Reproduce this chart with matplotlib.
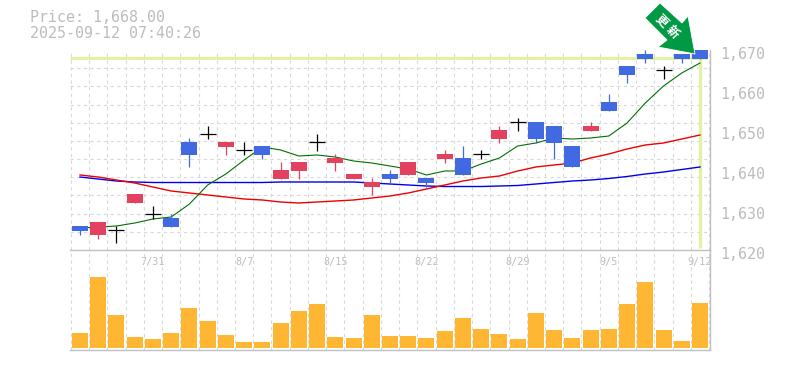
import matplotlib
matplotlib.use("Agg")
import matplotlib.pyplot as plt
from matplotlib.patches import Polygon
from matplotlib.transforms import ScaledTranslation

W, H = 785, 370
GRID = "#d9d9d9"
AXIS = "#c0c0c0"
TXT = "#bcbcbc"
HILITE = "#e2f2a4"
BLUE = "#4169e1"
RED = "#e2425f"
VOLC = "#ffb733"

date_idx = [4, 9, 14, 19, 24, 29, 34]
date_labels = ["7/31", "8/7", "8/15", "8/22", "8/29", "9/5", "9/12"]

opens = [1624.75,1627,1625,1634,1628.9,1625.75,1643.8,1649,1647,1645,1643.75,1640,1642,1647,1643,1639,1637,1637.75,1642,1636.75,1644,1638.75,1644,1650,1652,1647.75,1646.75,1640.75,1651,1654.75,1663.75,1667.75,1665,1667.75,1667.75]
closes = [1626,1623.75,1625,1631.75,1628.9,1628,1647,1649,1645.75,1645,1646,1637.75,1639.75,1647,1641.75,1637.75,1635.75,1639,1638.75,1638,1642.75,1643,1644,1647.75,1652,1652,1651,1646,1649.75,1657,1666,1669,1665,1669,1670]
highs = [1626,1627,1626,1634,1631,1629,1648,1651,1647,1647,1646,1642,1642,1649,1644,1639,1638,1640,1642,1638,1645,1646,1645,1651,1653,1652,1651,1646,1652,1659,1666,1670,1666,1669,1670]
lows = [1623.75,1622.75,1621.75,1631.75,1627.75,1625.75,1640.8,1647.8,1643.8,1643.8,1642.75,1637.75,1637.75,1644.75,1639.75,1637.75,1633.75,1636.75,1638.75,1635.75,1641.75,1638.75,1642.75,1646.75,1649.75,1646.75,1642.75,1640.75,1649.75,1654.75,1661.75,1666.75,1662.75,1666.75,1667.75]
ma_short = [1625.5,1625.75,1626,1626.75,1627.75,1628.25,1631.5,1636.25,1639,1642.5,1645.75,1645,1643.5,1643.75,1643.25,1642.25,1641.75,1641,1640.25,1638.75,1639.75,1639.75,1641.5,1643,1646,1646.75,1648,1647.75,1648,1648.5,1651.75,1656.75,1661,1664.25,1666.75]
ma_mid = [1638.75,1638.25,1637.5,1636.75,1635.75,1634.75,1634.25,1633.75,1633.25,1632.75,1632.5,1632,1631.75,1632,1632.25,1632.5,1633,1633.5,1634.25,1635.25,1636.25,1637.25,1638,1638.5,1639.75,1640.75,1641.25,1641.75,1643,1644,1645.25,1646.25,1646.75,1647.75,1648.75]
ma_long = [1638.25,1637.75,1637.25,1637,1636.875,1636.875,1636.875,1636.875,1636.875,1636.875,1636.875,1637,1637,1637,1637,1637,1636.75,1636.5,1636.25,1636,1635.875,1635.875,1635.875,1636,1636.125,1636.5,1636.875,1637.25,1637.5,1637.875,1638.375,1639,1639.5,1640.125,1640.75]
volumes = [15,71,33,11,9,15,40,27,13,6,6,25,37,44,11,10,33,12,12,10,17,30,19,14,9,35,18,10,18,19,44,66,18,7,45]
last_price = 1668
price_ticks = [1620, 1630, 1640, 1650, 1660, 1670]
price_labels = ["1,620", "1,630", "1,640", "1,650", "1,660", "1,670"]

n = len(closes)
idx = list(range(n))
step = 620 / 34
xlim = ((70 - 80) / step, (710 - 80) / step)
bw = 16 / step
grid_x = [i - 0.5 for i in range(n + 1)]
grid_y = [1620 + 50 * k / 11 for k in range(12)]

fig = plt.figure(figsize=(W / 100, H / 100), dpi=100, facecolor="white")
def box(l, t, r, b):
    return [l / W, 1 - b / H, (r - l) / W, (b - t) / H]

ax = fig.add_axes(box(70, 50, 710, 250))
vx = fig.add_axes(box(70, 250, 710, 350), sharex=ax)

for a in (ax, vx):
    a.set_facecolor("none")
    for s in a.spines.values():
        s.set_visible(False)
    a.spines["right"].set_visible(True)
    a.spines["right"].set_color(AXIS)
    a.spines["right"].set_linewidth(1.0)
    a.spines["bottom"].set_visible(True)
    a.spines["bottom"].set_color(AXIS)
    a.spines["bottom"].set_linewidth(1.0)
    a.set_axisbelow(True)

ax.set_xlim(*xlim)
ax.set_ylim(1620, 1670)
ax.set_xticks(grid_x, minor=True)
ax.set_yticks(grid_y, minor=True)
ax.grid(which="minor", color=GRID, lw=0.8, ls=(0, (3, 3)))
ax.grid(which="major", visible=False)
ax.tick_params(which="minor", length=0)
ax.set_xticks(date_idx, date_labels)
ax.tick_params(axis="x", which="major", length=0, pad=5, labelsize=7.3, labelcolor=TXT)
ax.set_yticks(price_ticks, price_labels)
ax.yaxis.tick_right()
ax.tick_params(axis="y", which="major", length=0, pad=7.5, labelsize=10.8, labelcolor=TXT)
ax.tick_params(axis="y", which="minor", length=0)
shift = ScaledTranslation(0, -3 / 100, fig.dpi_scale_trans)
for lab in ax.get_yticklabels():
    lab.set_transform(lab.get_transform() + shift)
    lab.set_family("DejaVu Sans Mono")
for lab in ax.get_xticklabels():
    lab.set_family("DejaVu Sans Mono")

# last price guides
ax.plot([xlim[0], n - 0.6], [last_price, last_price], color=HILITE, lw=2.2, zorder=1.5, solid_capstyle="butt")
ax.plot([n - 1, n - 1], [1620.5, last_price], color=HILITE, lw=2.4, zorder=1.5, solid_capstyle="butt")

# moving averages beneath candles
ax.plot(idx, ma_long, color="#0000ee", lw=1.0, zorder=2)
ax.plot(idx, ma_mid, color="#ee0000", lw=1.0, zorder=2)
ax.plot(idx, ma_short, color="#007000", lw=0.8, zorder=2)

# candles
for i, (o, c, h, l) in enumerate(zip(opens, closes, highs, lows)):
    if o == c:
        ax.plot([i, i], [l, h], color="black", lw=0.9, zorder=3, solid_capstyle="butt", clip_on=False)
        ax.plot([i - bw / 2, i + bw / 2], [o, o], color="black", lw=0.9, zorder=3, solid_capstyle="butt")
        continue
    col = BLUE if c > o else RED
    ax.plot([i, i], [l, h], color=col, lw=0.9, zorder=3, solid_capstyle="butt", clip_on=False)
    ax.bar(i, abs(c - o), bottom=min(o, c), width=bw, color=col, lw=0, zorder=3)

# volume
vx.set_ylim(-2, 98)
vx.set_xticks(grid_x, minor=True)
vx.grid(which="minor", axis="x", color=GRID, lw=0.8, ls=(0, (3, 3)))
vx.grid(which="major", visible=False)
vx.tick_params(which="both", length=0, labelbottom=False, labelleft=False)
vx.bar(idx, volumes, width=bw, color=VOLC, lw=0, zorder=3)

# header
fig.text(30 / W, 1 - 18 / H, "Price: 1,668.00", family="DejaVu Sans Mono", fontsize=10.8, color=TXT, va="center")
fig.text(30 / W, 1 - 33 / H, "2025-09-12 07:40:26", family="DejaVu Sans Mono", fontsize=10.8, color=TXT, va="center")

# signal arrow overlay
ov = fig.add_axes([0, 0, 1, 1], facecolor="none")
ov.set_xlim(0, W)
ov.set_ylim(H, 0)
ov.axis("off")
ov.add_patch(Polygon([(660, 3), (645, 18), (667, 40), (658, 47), (695, 54), (688, 16), (682, 23)],
                     closed=True, facecolor="#009944", edgecolor="white", lw=0.6, zorder=5, joinstyle="miter"))
ov.text(661, 21, "\u66f4", family="Noto Sans CJK JP", fontsize=9, color="white", weight="bold",
        rotation=-45, ha="center", va="center", zorder=6)
ov.text(672.5, 32, "\u65b0", family="Noto Sans CJK JP", fontsize=9, color="white", weight="bold",
        rotation=-45, ha="center", va="center", zorder=6)

fig.savefig("out.png", dpi=100, facecolor="white")
